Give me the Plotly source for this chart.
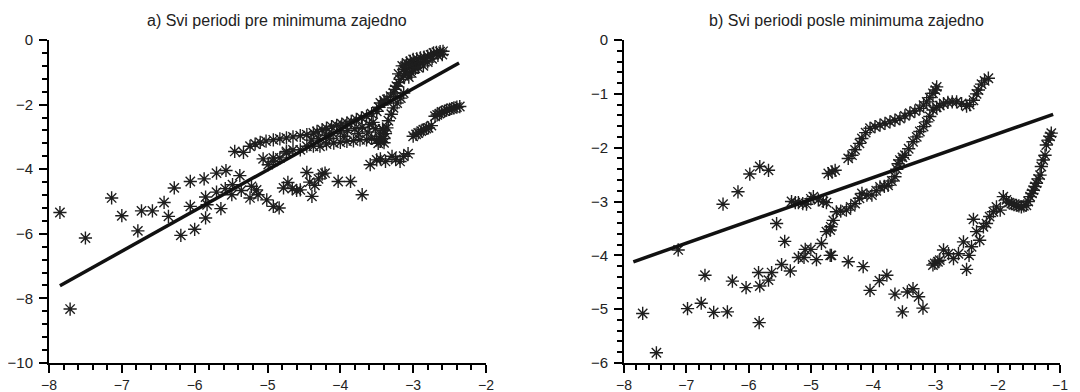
import plotly.graph_objects as go

# ---------------- Panel a) data ----------------
a_scatter_x = [-7.85, -7.71, -7.50, -7.14, -7.00, -6.78, -6.73, -6.58, -6.42, -6.36, -6.28, -6.19,
               -6.06, -6.06, -6.00, -5.87, -5.85, -5.83, -5.85, -5.70, -5.70, -5.64, -5.57, -5.58,
               -5.48, -5.49, -5.38, -5.36, -5.22, -5.15, -5.24, -5.13, -5.01, -4.92, -4.84]
a_scatter_y = [-5.34, -8.33, -6.13, -4.89, -5.44, -5.91, -5.29, -5.29, -5.03, -5.46, -4.58, -6.05,
               -4.38, -5.15, -5.86, -4.30, -4.86, -5.10, -5.51, -4.12, -4.71, -5.22, -4.04, -4.60,
               -4.48, -4.79, -4.20, -4.66, -4.53, -4.64, -4.89, -4.79, -4.95, -5.15, -5.20]

a_upper_x = [-5.45, -5.33, -5.24, -5.17, -5.10, -5.02, -4.92, -4.83, -4.74, -4.65, -4.55, -4.46,
             -4.37, -4.32, -4.25, -4.19, -4.12, -4.05, -3.98, -3.91, -3.85, -3.78, -3.71, -3.64,
             -3.57, -3.50, -3.47, -3.45, -3.40, -3.36, -3.31, -3.27, -3.25, -3.23, -3.20, -3.18,
             -3.13, -3.10, -3.13, -3.11, -3.09, -3.04, -3.00, -2.95, -2.90, -2.85, -2.80, -2.76,
             -2.72, -2.68, -2.63, -2.59, -3.05, -3.00, -2.95, -2.90, -2.85, -3.02, -2.97, -3.06]
a_upper_y = [-3.45, -3.48, -3.29, -3.22, -3.17, -3.13, -3.09, -3.06, -3.03, -3.00, -2.96, -2.93,
             -2.88, -2.83, -2.78, -2.73, -2.68, -2.64, -2.60, -2.57, -2.52, -2.46, -2.41, -2.36,
             -2.28, -2.21, -2.08, -1.95, -1.88, -1.84, -1.74, -1.64, -1.53, -1.43, -1.32, -1.22,
             -1.10, -0.98, -0.91, -0.80, -0.71, -0.66, -0.60, -0.58, -0.55, -0.53, -0.50, -0.46,
             -0.40, -0.38, -0.36, -0.35, -0.85, -0.78, -0.75, -0.70, -0.66, -1.02, -0.88, -1.15]

# extra points filling the thick top blob
a_blob_x = [-3.00, -2.93, -2.86, -2.80, -2.74, -2.66, -2.60, -3.08, -3.15, -3.20]
a_blob_y = [-0.90, -0.85, -0.80, -0.68, -0.58, -0.48, -0.45, -1.05, -0.80, -1.05]

# points filling the dense band around the fitted line
a_band_x = [-4.40, -4.30, -4.20, -4.10, -4.00, -3.90, -3.80, -3.70, -3.60, -3.55, -4.15, -3.95,
            -3.75, -3.62, -3.52, -3.48, -3.40]
a_band_y = [-3.10, -3.05, -2.95, -2.90, -2.85, -2.80, -2.75, -2.70, -2.62, -2.55, -3.05, -2.98,
            -2.90, -2.85, -2.75, -3.20, -3.18]

a_lower_x = [-5.06, -4.92, -4.74, -4.55, -4.46, -4.37, -4.28, -4.19, -4.09, -4.00, -3.91, -3.82,
             -3.73, -3.64, -3.57, -3.50, -3.45, -3.41, -3.36, -3.34, -3.30, -3.27, -3.22, -3.17,
             -3.13, -3.45, -3.40, -3.38, -3.42]
a_lower_y = [-3.68, -3.65, -3.45, -3.40, -3.29, -3.29, -3.29, -3.22, -3.19, -3.17, -3.14, -3.12,
             -3.09, -3.09, -3.05, -3.09, -2.98, -2.80, -2.72, -2.50, -2.30, -2.10, -1.95, -1.80,
             -1.64, -3.14, -3.05, -2.90, -2.75]

a_desc_x = [-4.99, -4.92, -4.83, -4.74, -4.65]
a_desc_y = [-3.86, -3.76, -3.65, -3.50, -3.40]

a_right_x = [-3.00, -2.96, -2.93, -2.89, -2.86, -2.82, -2.79, -2.75, -2.70, -2.67, -2.64, -2.61,
             -2.57, -2.54, -2.50, -2.47, -2.44, -2.40, -2.36]
a_right_y = [-2.98, -2.92, -2.88, -2.82, -2.78, -2.74, -2.72, -2.65, -2.36, -2.32, -2.28, -2.23,
             -2.20, -2.17, -2.15, -2.12, -2.10, -2.08, -2.06]

a_low_x = [-3.59, -3.50, -3.45, -3.38, -3.29, -3.24, -3.18, -3.13, -3.07]
a_low_y = [-3.86, -3.71, -3.68, -3.76, -3.60, -3.70, -3.76, -3.60, -3.52]

a_mid_x = [-4.78, -4.72, -4.66, -4.60, -4.55, -4.46, -4.42, -4.39, -4.35, -4.30, -4.25, -4.21,
           -4.03, -3.86, -3.70]
a_mid_y = [-4.58, -4.41, -4.60, -4.66, -4.64, -4.10, -4.40, -4.84, -4.50, -4.30, -4.15, -4.12,
           -4.38, -4.38, -4.79]

a_fit_x = [-7.85, -2.37]
a_fit_y = [-7.61, -0.71]

# ---------------- Panel b) data ----------------
b_scatter_x = [-7.85, -7.70, -7.48, -7.13, -6.98, -6.76, -6.70, -6.56, -6.34, -6.26, -6.41, -6.17,
               -5.98, -5.82, -5.68, -6.04, -5.84, -5.83, -5.82, -5.68, -5.63, -5.55, -5.47, -5.42,
               -5.33, -5.20, -5.11, -5.09, -5.00, -4.91, -4.83, -4.69, -4.75, -4.68]
b_scatter_y = [-6.01, -5.08, -5.81, -3.90, -4.99, -4.89, -4.37, -5.06, -5.05, -4.48, -3.05, -2.82,
               -2.49, -2.35, -2.42, -4.60, -4.32, -5.25, -4.57, -4.46, -4.32, -3.41, -4.17, -3.74,
               -4.29, -4.04, -4.04, -3.89, -3.89, -4.08, -3.78, -4.00, -3.56, -3.47]

b_flat_x = [-5.31, -5.25, -5.20, -5.13, -5.07, -5.00, -4.96, -4.88, -4.80, -4.75]
b_flat_y = [-3.00, -3.02, -3.02, -3.04, -3.05, -2.95, -2.91, -2.97, -3.00, -3.02]

b_top_x = [-4.72, -4.66, -4.61, -4.40, -4.34, -4.29, -4.22, -4.18, -4.12, -4.05, -3.97, -3.89,
           -3.81, -3.73, -3.65, -3.57, -3.49, -3.41, -3.33, -3.25, -3.19, -3.14, -3.09, -3.04,
           -3.00, -2.98]
b_top_y = [-2.48, -2.45, -2.42, -2.20, -2.14, -2.04, -1.92, -1.83, -1.72, -1.64, -1.61, -1.58,
           -1.55, -1.52, -1.49, -1.46, -1.41, -1.36, -1.32, -1.27, -1.21, -1.15, -1.07, -0.99,
           -0.93, -0.87]

b_mid_x = [-4.69, -4.64, -4.59, -4.52, -4.43, -4.36, -4.29, -4.22, -4.18, -4.10, -4.02, -3.95,
           -3.89, -3.82, -3.76, -3.70, -3.65, -3.62, -3.60, -3.57, -3.53, -3.49, -3.43, -3.36,
           -3.30, -3.25, -3.19, -3.14, -3.09, -3.04, -2.98, -2.93, -2.87, -2.80, -2.73, -2.66,
           -2.58, -2.50, -2.45, -2.39, -2.34, -2.31, -2.26, -2.21, -2.15]
b_mid_y = [-3.53, -3.35, -3.19, -3.18, -3.16, -3.10, -3.04, -2.94, -2.85, -2.88, -2.88, -2.80,
           -2.73, -2.72, -2.70, -2.62, -2.54, -2.40, -2.30, -2.23, -2.18, -2.14, -2.02, -1.89,
           -1.80, -1.70, -1.61, -1.52, -1.42, -1.30, -1.25, -1.22, -1.18, -1.16, -1.15, -1.15,
           -1.18, -1.23, -1.20, -1.12, -1.00, -0.93, -0.82, -0.76, -0.71]

b_low_x = [-4.67, -4.40, -4.16, -4.05, -3.90, -3.78, -3.65, -3.53, -3.45, -3.36, -3.27, -3.20]
b_low_y = [-4.00, -4.12, -4.21, -4.65, -4.47, -4.37, -4.72, -5.05, -4.68, -4.62, -4.77, -4.98]

b_right_x = [-3.04, -3.01, -2.96, -2.93, -2.87, -2.79, -2.71, -2.63, -2.55, -2.50, -2.46, -2.42,
             -2.39, -2.34, -2.29, -2.23, -2.18, -2.13, -2.07, -2.02, -1.96, -1.91, -1.86, -1.82,
             -1.78, -1.74, -1.70, -1.66, -1.62, -1.58, -1.54, -1.51, -1.48, -1.45, -1.43, -1.40,
             -1.38, -1.35, -1.32, -1.30, -1.27, -1.24, -1.22, -1.19, -1.16, -1.14]
b_right_y = [-4.18, -4.15, -4.12, -4.09, -3.90, -3.97, -4.06, -3.97, -3.75, -4.26, -4.00, -3.84,
             -3.33, -3.56, -3.72, -3.47, -3.41, -3.28, -3.19, -3.10, -3.16, -2.91, -2.97, -3.02,
             -3.04, -3.06, -3.07, -3.08, -3.10, -3.08, -3.07, -3.00, -2.91, -2.85, -2.79, -2.72,
             -2.66, -2.58, -2.51, -2.35, -2.23, -2.14, -1.95, -1.86, -1.79, -1.73]

b_fit_x = [-7.85, -1.11]
b_fit_y = [-4.12, -1.38]

titles = ["a) Svi periodi pre minimuma zajedno", "b) Svi periodi posle minimuma zajedno"]

# ---------------- Figure ----------------
FONT = "Liberation Sans, Arial, sans-serif"
INK = "#1e1e1e"
marker = dict(symbol="asterisk-open", size=11, line=dict(width=1.4, color=INK), color=INK)

fig = go.Figure()

a_x = (a_scatter_x + a_upper_x + a_blob_x + a_band_x + a_lower_x + a_desc_x + a_right_x
       + a_low_x + a_mid_x)
a_y = (a_scatter_y + a_upper_y + a_blob_y + a_band_y + a_lower_y + a_desc_y + a_right_y
       + a_low_y + a_mid_y)
b_x = b_scatter_x + b_flat_x + b_top_x + b_mid_x + b_low_x + b_right_x
b_y = b_scatter_y + b_flat_y + b_top_y + b_mid_y + b_low_y + b_right_y

fig.add_trace(go.Scatter(x=a_x, y=a_y, mode="markers", marker=marker, cliponaxis=False,
                         xaxis="x", yaxis="y"))
fig.add_trace(go.Scatter(x=a_fit_x, y=a_fit_y, mode="lines", line=dict(color="#111", width=3.5),
                         xaxis="x", yaxis="y"))
fig.add_trace(go.Scatter(x=b_x, y=b_y, mode="markers", marker=marker, cliponaxis=False,
                         xaxis="x2", yaxis="y2"))
fig.add_trace(go.Scatter(x=b_fit_x, y=b_fit_y, mode="lines", line=dict(color="#111", width=3.5),
                         xaxis="x2", yaxis="y2"))

# the page body adds an 8px offset; the figure is sized so the page fits the window
OFF = 8
L, R, T, B = 49 - OFF, 12, 40 - OFF, 29
W, H = 1080 - 2 * OFF, 392 - OFF
pw = W - L - R
ph = H - T - B


def axis_style(rng, dtick, minor_dtick, standoff, size):
    return dict(range=rng, dtick=dtick, tick0=0, ticks="outside", ticklen=8, tickwidth=2,
                tickcolor="black", showline=True, linewidth=2, linecolor="black",
                showgrid=False, zeroline=False, automargin=False, ticklabelstandoff=standoff,
                tickfont=dict(family=FONT, size=size, color="#222"),
                minor=dict(dtick=minor_dtick, tick0=0, ticks="outside", ticklen=5, tickwidth=2,
                           tickcolor="black", showgrid=False))


xa = axis_style([-8, -2], 1, 0.2, 0, 14)
xa.update(domain=[0, (486 - 49) / pw], anchor="y")
ya = axis_style([-10, 0], 2, 0.4, 3, 15)
ya.update(anchor="x")
xb = axis_style([-8, -1], 1, 0.2, 0, 14)
xb.update(domain=[(624 - 49) / pw, 1.0], anchor="y2")
yb = axis_style([-6, 0], 1, 0.2, 3, 15)
yb.update(anchor="x2")

fig.update_layout(
    width=W, height=H,
    margin=dict(l=L, r=R, t=T, b=B, autoexpand=False),
    paper_bgcolor="white", plot_bgcolor="white",
    showlegend=False,
    xaxis=xa, yaxis=ya, xaxis2=xb, yaxis2=yb,
    annotations=[
        dict(text=titles[0], x=(277 - 49) / pw, y=1 + (40 - 21) / ph, xref="paper", yref="paper",
             showarrow=False, xanchor="center", yanchor="middle",
             font=dict(family=FONT, size=16, color="#222")),
        dict(text=titles[1], x=(846 - 49) / pw, y=1 + (40 - 21) / ph, xref="paper", yref="paper",
             showarrow=False, xanchor="center", yanchor="middle",
             font=dict(family=FONT, size=16, color="#222")),
    ],
)

fig.write_html("out.html")
